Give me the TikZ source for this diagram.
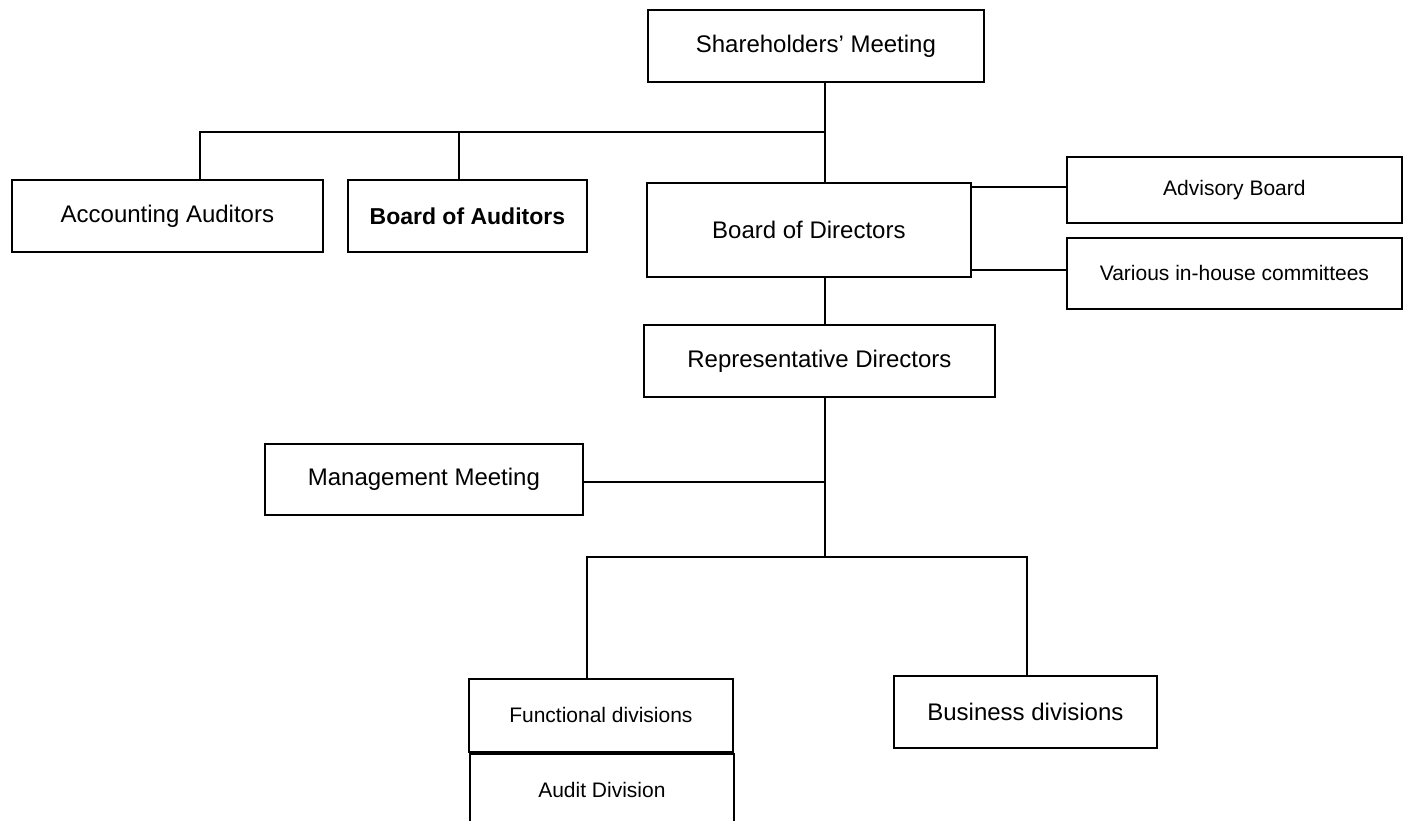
\documentclass[tikz,border=0pt]{standalone}
\usepackage{fontspec}
\setmainfont{Liberation Sans}
\usepackage{tikz}
\usetikzlibrary{calc}

\tikzset{
  orgbox/.style={draw, line width=1.8pt, inner sep=0pt, anchor=north west,
    align=center, font=\fontsize{24}{28}\selectfont},
  orgsmall/.style={orgbox, font=\fontsize{21}{25}\selectfont},
  orgline/.style={line width=1.8pt}
}

\begin{document}
\begin{tikzpicture}[x=1pt,y=-1pt]
    \clip (0,0) rectangle (1404,820);
    % boxes
    \node[orgbox, minimum width=336pt, minimum height=72pt] (share) at (647,9) {Shareholders’ Meeting};
    \node[orgbox, minimum width=311pt, minimum height=72pt] (acc) at (11,179) {Accounting Auditors};
    \node[orgbox, minimum width=239pt, minimum height=72pt, font=\fontsize{23}{27}\selectfont\bfseries] (boa) at (347,179) {Board of Auditors};
    \node[orgbox, minimum width=324pt, minimum height=94pt] (bod) at (646,182) {Board of Directors};
    \node[orgsmall, minimum width=335pt, minimum height=66pt] (adv) at (1066,156) {Advisory Board};
    \node[orgsmall, minimum width=335pt, minimum height=71pt] (comm) at (1066,237) {Various in-house committees};
    \node[orgbox, minimum width=351pt, minimum height=72pt] (rep) at (643,324) {Representative Directors};
    \node[orgbox, minimum width=318pt, minimum height=71pt] (mgmt) at (264,443) {Management Meeting};
    \node[orgsmall, minimum width=264pt, minimum height=73pt] (func) at (468,678) {Functional divisions};
    \node[orgsmall, minimum width=264pt, minimum height=72pt] (audit) at (469,753) {Audit Division};
    \node[orgbox, minimum width=263pt, minimum height=72pt] (bus) at (893,675) {Business divisions};

    % junctions
    \coordinate (j1) at (825,132);
    \coordinate (j2) at (825,557);
    \coordinate (aL) at (200,132);
    \coordinate (aM) at (459,132);
    \coordinate (fL) at (587,557);
    \coordinate (fR) at (1027,557);

    % lines
    \draw[orgline] (share.south -| j1) -- (bod.north -| j1);
    \draw[orgline] (j1) -- (aL) -- (aL |- acc.north);
    \draw[orgline] (aM) -- (aM |- boa.north);
    \draw[orgline] ($(bod.north east)+(0,5)$) coordinate (b1) -- (b1 -| adv.west);
    \draw[orgline] ($(bod.south east)+(0,-8)$) coordinate (b2) -- (b2 -| comm.west);
    \draw[orgline] (bod.south -| j1) -- (rep.north -| j1);
    \draw[orgline] (rep.south -| j2) -- (j2);
    \draw[orgline] ($(mgmt.east)+(0,2.5)$) coordinate (m1) -- (m1 -| j2);
    \draw[orgline] (fL |- func.north) -- (fL) -- (fR) -- (fR |- bus.north);
\end{tikzpicture}
\end{document}
